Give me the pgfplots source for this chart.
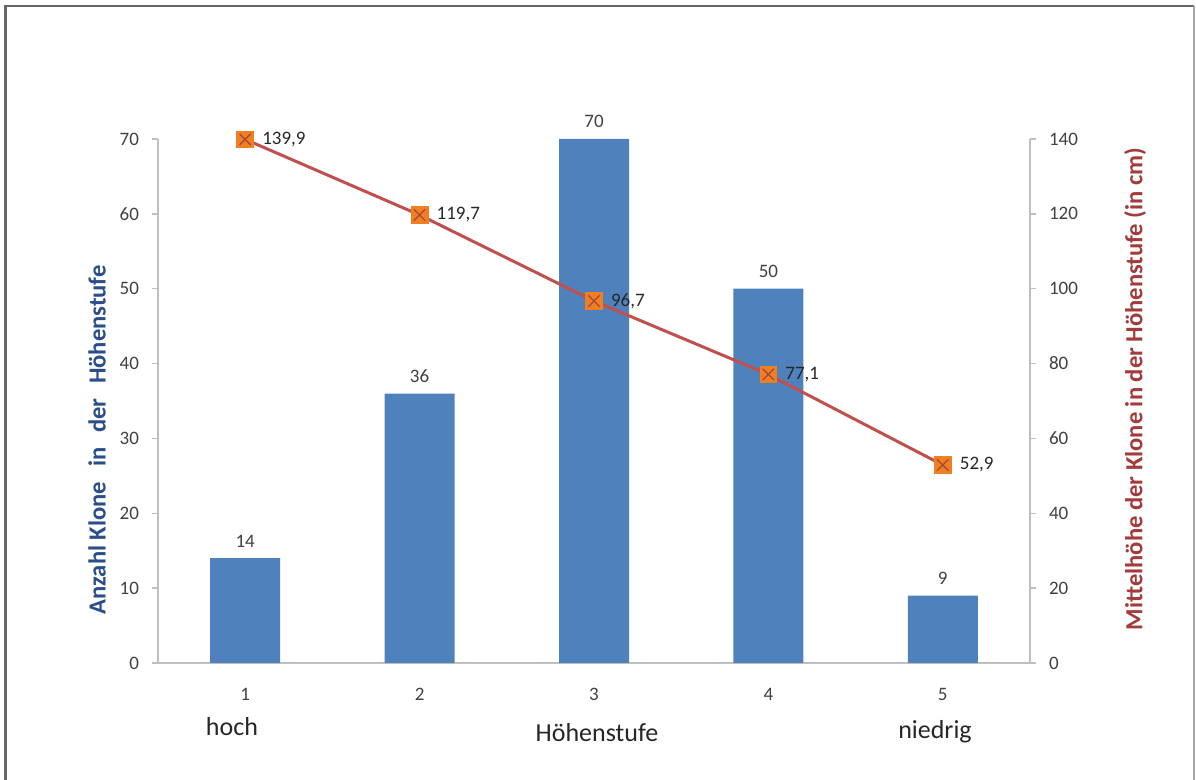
\documentclass[border=0pt]{standalone}
\usepackage{pgfplots}
\pgfplotsset{compat=1.18}
\usepackage{fontspec}
\setmainfont{Carlito}
\definecolor{barblue}{HTML}{4F81BD}
\definecolor{linered}{HTML}{C0504D}
\definecolor{mkorange}{HTML}{F07F22}
\definecolor{ticktext}{HTML}{404040}
\definecolor{axgray}{HTML}{BFBFBF}
\definecolor{ltitle}{HTML}{2A4E8A}
\definecolor{rtitle}{HTML}{A33B3B}
\begin{document}
\begin{tikzpicture}[x=1pt,y=1pt]
\useasboundingbox (0,0) rectangle (598,390);
\draw[line width=1.1pt, black!60] (2.75,0) -- (2.75,387) -- (597,387);
\draw[line width=0.8pt, black!35] (597,387) -- (597,0);
\begin{axis}[
  at={(79pt,58.5pt)}, anchor=south west, scale only axis,
  width=436pt, height=262pt,
  xmin=0.5, xmax=5.5, ymin=0, ymax=70,
  ybar, bar width=35pt,
  xtick={1,2,3,4,5}, ytick={0,10,...,70},
  axis y line*=left, axis x line*=bottom,
  axis line style={axgray, line width=0.7pt},
  xtick style={draw=none},
  ytick style={axgray, line width=0.7pt},
  tick align=outside, major tick length=3pt,
  /pgf/number format/assume math mode=true,
  ticklabel style={font=\fontsize{9.5}{11}\selectfont, color=ticktext},
  xticklabel style={yshift=-6pt},
  yticklabel style={xshift=-3pt},
  clip=false,
]
\addplot[fill=barblue, draw=none,
  nodes near coords,
  nodes near coords style={font=\fontsize{9.5}{11}\selectfont, color=ticktext, yshift=2pt}]
  coordinates {(1,14) (2,36) (3,70) (4,50) (5,9)};
\end{axis}
\begin{axis}[
  at={(79pt,58.5pt)}, anchor=south west, scale only axis,
  width=436pt, height=262pt,
  xmin=0.5, xmax=5.5, ymin=0, ymax=140,
  ytick={0,20,...,140},
  axis y line*=right, axis x line=none,
  axis line style={axgray, line width=0.7pt},
  ytick style={axgray, line width=0.7pt},
  tick align=outside, major tick length=3pt,
  /pgf/number format/assume math mode=true,
  ticklabel style={font=\fontsize{9.5}{11}\selectfont, color=ticktext},
  yticklabel style={xshift=3pt},
  clip=false,
]
\addplot[linered, line width=1.5pt, mark=square*, mark size=4.2pt,
  mark options={fill=mkorange, draw=mkorange, line width=0.4pt},
  nodes near coords={\pgfmathprintnumber[fixed,fixed zerofill,precision=1,use comma]{\pgfplotspointmeta}},
  nodes near coords style={font=\fontsize{9.5}{11}\selectfont, color=black!85, anchor=west, xshift=5pt}]
  coordinates {(1,139.9) (2,119.7) (3,96.7) (4,77.1) (5,52.9)};
\addplot[only marks, mark=x, mark size=4pt, mark options={draw=linered!85!black, line width=0.6pt}]
  coordinates {(1,139.9) (2,119.7) (3,96.7) (4,77.1) (5,52.9)};
\end{axis}
\node[rotate=90, font=\bfseries\fontsize{12.3}{14}\selectfont, color=ltitle] at (48.5,170) {Anzahl Klone\hspace{0.6em}in\hspace{0.6em}der\hspace{0.6em}Höhenstufe};
\node[rotate=90, font=\bfseries\fontsize{12.3}{14}\selectfont, color=rtitle] at (567.5,195.5) {Mittelhöhe der Klone in der Höhenstufe (in cm)};
\node[font=\fontsize{13}{15}\selectfont, color=black!85] at (116,26.5) {hoch};
\node[font=\fontsize{13}{15}\selectfont, color=black!85] at (298.5,23.5) {Höhenstufe};
\node[font=\fontsize{13}{15}\selectfont, color=black!85] at (467.5,24) {niedrig};
\end{tikzpicture}
\end{document}
